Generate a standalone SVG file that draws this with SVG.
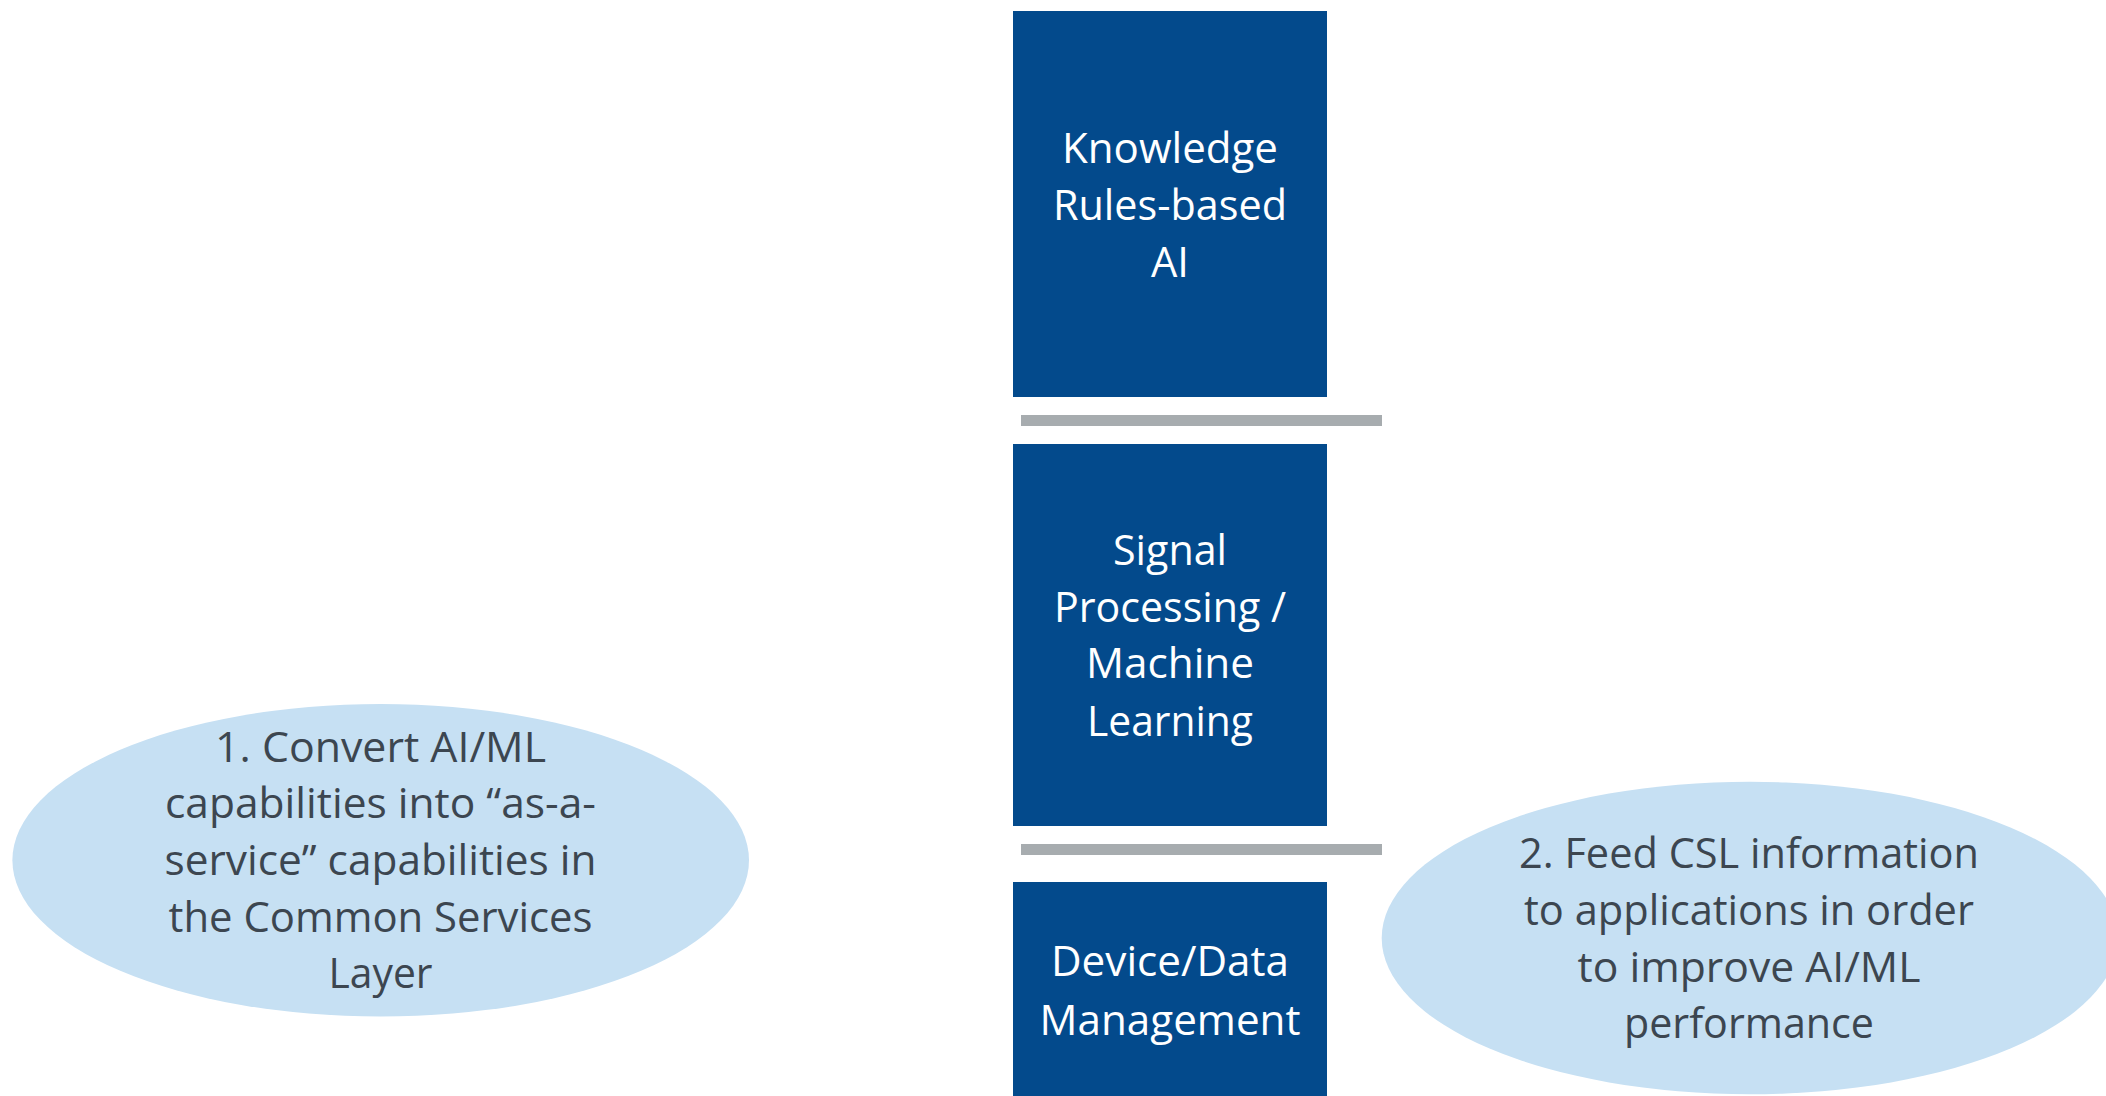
<svg xmlns="http://www.w3.org/2000/svg" width="2106" height="1096" viewBox="0 0 2106 1096">
  <style>
    .box { fill: #034A8C; }
    .bar { fill: #A7ACAF; }
    .oval { fill: #C6E0F3; }
    .bt { font-family: "Open Sans", "Noto Sans", "Liberation Sans", sans-serif; font-size: 42px; fill: #FFFFFF; text-anchor: middle; }
    .et { font-family: "Open Sans", "Noto Sans", "Liberation Sans", sans-serif; font-size: 42px; fill: #3C4650; text-anchor: middle; }
  </style>
  <rect width="2106" height="1096" fill="#FFFFFF"/>

  <g id="connectors">
    <rect class="bar" x="1021" y="415" width="361" height="11"/>
    <rect class="bar" x="1021" y="844" width="361" height="11"/>
  </g>

  <g id="node-knowledge">
    <rect class="box" x="1013" y="11" width="314" height="386"/>
    <text class="bt" x="1170" y="163" textLength="216" lengthAdjust="spacingAndGlyphs">Knowledge</text>
    <text class="bt" x="1170" y="220" textLength="234" lengthAdjust="spacingAndGlyphs">Rules-based</text>
    <text class="bt" x="1170" y="277" textLength="38" lengthAdjust="spacingAndGlyphs">AI</text>
  </g>

  <g id="node-signal">
    <rect class="box" x="1013" y="444" width="314" height="382"/>
    <text class="bt" x="1170" y="565" textLength="114" lengthAdjust="spacingAndGlyphs">Signal</text>
    <text class="bt" x="1170" y="622" textLength="232" lengthAdjust="spacingAndGlyphs">Processing /</text>
    <text class="bt" x="1170" y="678" textLength="168" lengthAdjust="spacingAndGlyphs">Machine</text>
    <text class="bt" x="1170" y="736" textLength="166" lengthAdjust="spacingAndGlyphs">Learning</text>
  </g>

  <g id="node-device">
    <rect class="box" x="1013" y="882" width="314" height="220"/>
    <text class="bt" x="1170" y="976" textLength="238" lengthAdjust="spacingAndGlyphs">Device/Data</text>
    <text class="bt" x="1170" y="1035" textLength="261" lengthAdjust="spacingAndGlyphs">Management</text>
  </g>

  <g id="note-1">
    <ellipse class="oval" cx="380.7" cy="860.3" rx="368.3" ry="156.3"/>
    <text class="et" x="380.5" y="762" textLength="331" lengthAdjust="spacingAndGlyphs">1. Convert AI/ML</text>
    <text class="et" x="380.5" y="818" textLength="431" lengthAdjust="spacingAndGlyphs">capabilities into “as-a-</text>
    <text class="et" x="380.5" y="875" textLength="432" lengthAdjust="spacingAndGlyphs">service” capabilities in</text>
    <text class="et" x="380.5" y="932" textLength="424" lengthAdjust="spacingAndGlyphs">the Common Services</text>
    <text class="et" x="380.5" y="988" textLength="104" lengthAdjust="spacingAndGlyphs">Layer</text>
  </g>

  <g id="note-2">
    <ellipse class="oval" cx="1750" cy="938" rx="368.3" ry="156.3"/>
    <text class="et" x="1749" y="868" textLength="460" lengthAdjust="spacingAndGlyphs">2. Feed CSL information</text>
    <text class="et" x="1749" y="925" textLength="450" lengthAdjust="spacingAndGlyphs">to applications in order</text>
    <text class="et" x="1749" y="982" textLength="343" lengthAdjust="spacingAndGlyphs">to improve AI/ML</text>
    <text class="et" x="1749" y="1038" textLength="250" lengthAdjust="spacingAndGlyphs">performance</text>
  </g>
</svg>
